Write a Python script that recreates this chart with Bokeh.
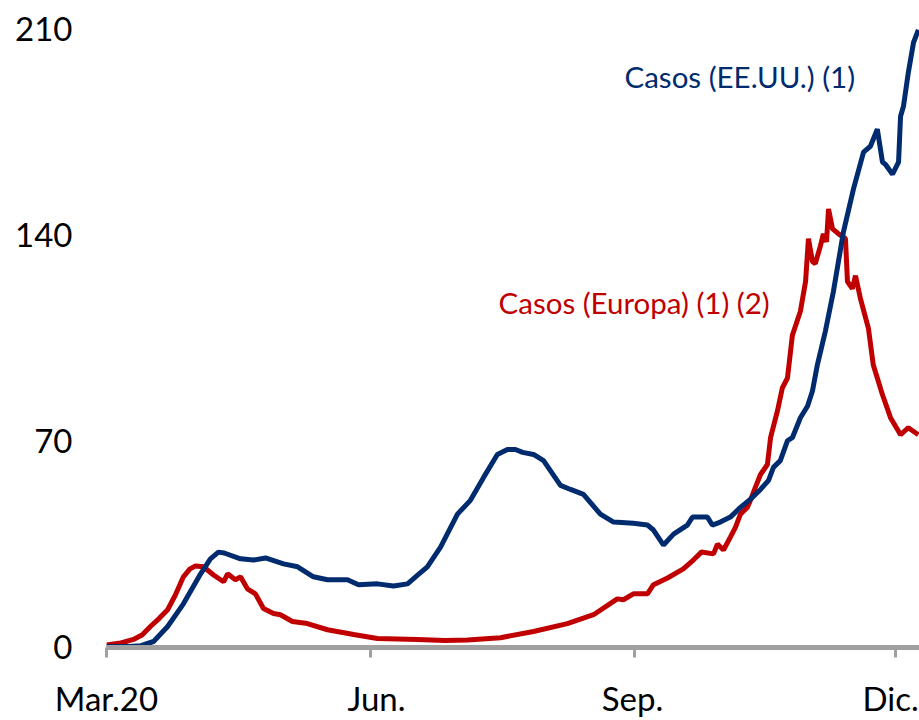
from bokeh.plotting import figure
from bokeh.models import Range1d, FixedTicker, Label
from bokeh.embed import file_html
from bokeh.resources import INLINE

# Days since 1 March 2020, and 7-day average of new cases (thousands)
us_day = [0, 8, 12, 16.4, 21.3, 26.8, 32.8, 36.2, 39.0, 41, 46.7, 51.2, 55.4, 61.7, 66.6,
          72.1, 77.0, 84.0, 87.8, 94.4, 100.0, 104.9, 108.4, 111.8, 116.4, 122.3, 126.8,
          131.4, 136.2, 139.7, 142.5, 145, 148.8, 152.3, 158.2, 161.7, 166.2, 172.1, 176.7,
          183.6, 188.5, 190.6, 194.1, 197.6, 202.4, 204.2, 209.4, 211.1, 213.9, 217.4, 220.9,
          224.4, 227.9, 230.7, 232.4, 234.8, 237.3, 239.0, 241.8, 244.3, 246.0, 247.7, 250.5,
          253.3, 256.8, 260.3, 263.8, 266.2, 268.6, 270.4, 271.4, 273.9, 276.0, 276.7, 277.7,
          279.4, 281.2, 282.9]
us_cases = [0, 0, 0.3, 1.7, 6.8, 14.5, 24.7, 29.8, 32.1, 31.8, 29.8, 29.4, 30.1, 28.1, 27.1,
            23.7, 22.7, 22.7, 21.0, 21.3, 20.6, 21.3, 24.3, 27.1, 33.8, 45.0, 49.7,
            57.5, 65.3, 67.0, 67.0, 66.0, 65.3, 63.2, 54.8, 53.4, 51.7, 45.0, 42.3,
            41.9, 41.3, 39.6, 34.5, 38.2, 41.3, 44.0, 44.0, 41.3, 42.3, 44.0, 47.3,
            50.1, 53.4, 56.5, 60.9, 63.2, 70.0, 71.0, 77.8, 81.8, 86.9, 95.7, 107.2,
            120.7, 141.0, 155.6, 168.1, 170.1, 175.9, 164.7, 164.0, 160.6, 164.7, 180.3, 183.6,
            195.1, 205.3, 209.7]

eu_day = [0, 5, 9.4, 12.5, 15.3, 18.3, 21.3, 24, 26.8, 29, 31.0, 33.8, 37.3, 40.8, 42.2, 44.9,
          46.7, 49.1, 51.9, 54.7, 58.2, 60.6, 64.8, 70.0, 77.0, 86.1, 94.4, 108.4, 118,
          125.8, 137.3, 148.8, 160.6, 169.7, 178.0, 180.1, 183.6, 188.5, 190.6, 195.5, 201.0,
          204.5, 207.3, 211.5, 212.9, 215.0, 217.4, 219.2, 220.9, 223.3, 224.4, 226.1, 227.9,
          230.3, 231.4, 233.8, 235.5, 237.3, 239.0, 241.8, 243.6, 244.6, 246.0, 247.0, 248.8,
          249.8, 250.9, 251.6, 253.0, 255.1, 257.5, 258.2, 259.9, 261.0, 262.7, 265.5, 267.2,
          270.4, 273.2, 276.7, 279.4, 282.9]
eu_cases = [0.5, 1.2, 2.4, 4.0, 6.8, 9.5, 12.5, 17.5, 23.7, 26.3, 27.4, 27.1, 24.3, 22.0, 24.7, 22.7,
            23.7, 19.6, 17.9, 12.9, 11.2, 10.8, 8.5, 7.8, 5.7, 4.1, 2.7, 2.4, 2.0,
            2.2, 3.0, 5.1, 7.8, 10.8, 16.2, 15.9, 17.9, 17.9, 21.0, 23.3, 26.4,
            29.4, 32.1, 31.5, 34.8, 32.8, 37.2, 40.6, 45.0, 47.3, 49.7, 54.1, 58.5,
            61.9, 71.0, 80.1, 87.9, 91.3, 105.8, 114.0, 124.1, 138.7, 130.9, 130.2, 136.3,
            140.3, 137.6, 148.8, 142.0, 140.3, 138.7, 124.1, 121.7, 126.1, 118.4, 108.2, 95.7,
            85.6, 77.8, 72.0, 74.4, 72.0]

y_ticks = [0, 70, 140, 210]
x_tick_days = [0, 92, 184, 275]          # 1 Mar, 1 Jun, 1 Sep, 1 Dec
x_tick_labels = ["Mar.20", "Jun.", "Sep.", "Dic."]
label_us = "Casos (EE.UU.) (1)"
label_eu = "Casos (Europa) (1) (2)"

NAVY = "#002B6E"
RED = "#C00000"
GREY = "#A0A0A0"
FONT = "Lato"
PX_PER_DAY = 2.87

p = figure(width=919, height=720, output_backend="svg", toolbar_location=None,
           x_range=Range1d(0, 283.3), y_range=Range1d(-0.34, 212.86),
           min_border_left=106, min_border_right=0, min_border_top=20, min_border_bottom=70,
           background_fill_color="white", border_fill_color="white")
p.outline_line_color = None
p.xgrid.grid_line_color = None
p.ygrid.grid_line_color = None

p.line(eu_day, eu_cases, line_color=RED, line_width=5)
p.line(us_day, us_cases, line_color=NAVY, line_width=5)

# y axis
p.yaxis.ticker = FixedTicker(ticks=y_ticks)
p.yaxis.axis_line_color = None
p.yaxis.major_tick_line_color = None
p.yaxis.major_tick_out = 0
p.yaxis.major_tick_in = 0
p.yaxis.minor_tick_line_color = None
p.yaxis.major_label_standoff = 34
p.yaxis.major_label_text_font = FONT
p.yaxis.major_label_text_font_size = "33px"
p.yaxis.major_label_text_color = "#000000"

# x axis: tick marks as minor ticks at month starts, labels (slightly nudged) as major ticks
label_pos = [x_tick_days[0], x_tick_days[1] + 6 / PX_PER_DAY,
             x_tick_days[2] - 2 / PX_PER_DAY, x_tick_days[3] - 5 / PX_PER_DAY]
p.xaxis.ticker = FixedTicker(ticks=label_pos, minor_ticks=x_tick_days)
p.xaxis.major_label_overrides = {pos: txt for pos, txt in zip(label_pos, x_tick_labels)}
p.xaxis.axis_line_color = GREY
p.xaxis.axis_line_width = 5
p.xaxis.major_tick_line_color = None
p.xaxis.major_tick_out = 0
p.xaxis.major_tick_in = 0
p.xaxis.minor_tick_line_color = GREY
p.xaxis.minor_tick_line_width = 3
p.xaxis.minor_tick_out = 10
p.xaxis.minor_tick_in = 0
p.xaxis.major_label_standoff = 20
p.xaxis.major_label_text_font = FONT
p.xaxis.major_label_text_font_size = "33px"
p.xaxis.major_label_text_color = "#000000"

p.add_layout(Label(x=180.5, y=193.8, text=label_us, text_font=FONT, text_font_size="29.5px",
                   text_color=NAVY, text_align="left", text_baseline="alphabetic"))
p.add_layout(Label(x=136.6, y=117.0, text=label_eu, text_font=FONT, text_font_size="29.5px",
                   text_color=RED, text_align="left", text_baseline="alphabetic"))

open("out.html", "w").write(file_html(p, INLINE))
